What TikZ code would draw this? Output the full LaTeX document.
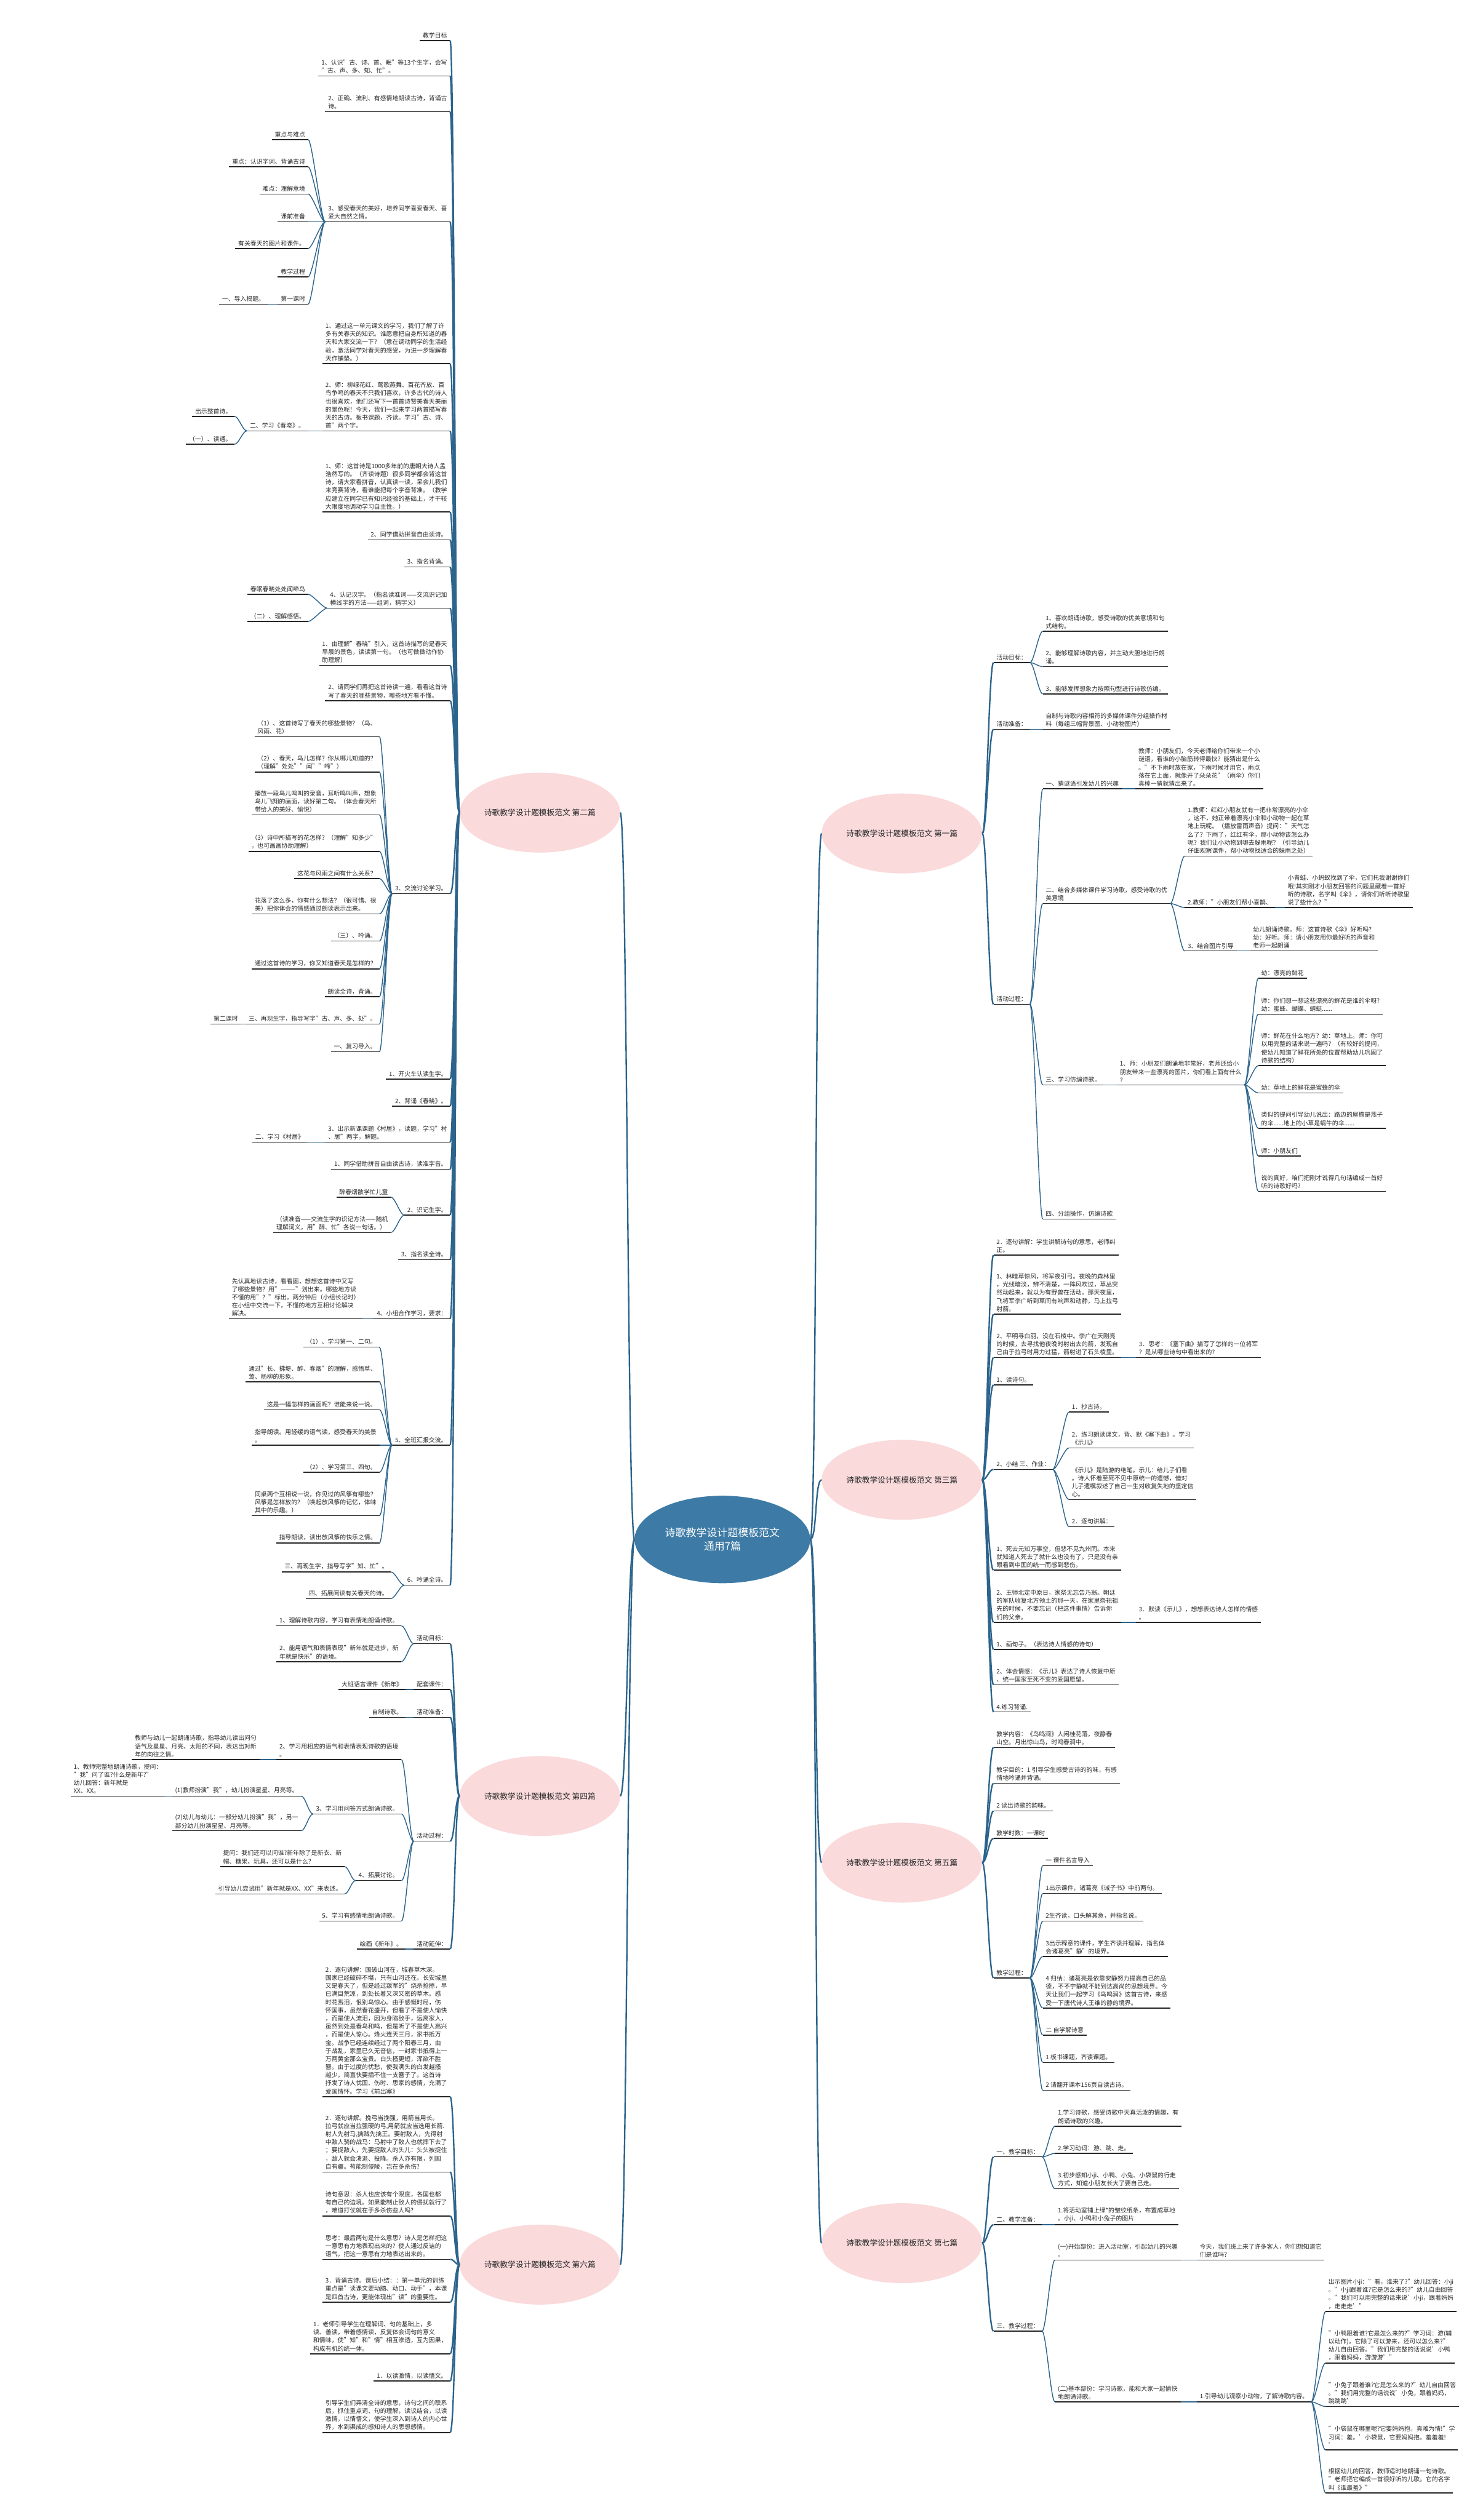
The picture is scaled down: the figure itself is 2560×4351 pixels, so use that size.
\documentclass[tikz,border=0pt]{standalone}
\usepackage{fontspec}
\setmainfont{Noto Sans CJK SC}
\usetikzlibrary{shapes.geometric}
\definecolor{lnblue}{RGB}{44,100,140}
\definecolor{pinkf}{RGB}{250,218,219}
\definecolor{ctrf}{RGB}{61,123,166}
\definecolor{txt}{RGB}{40,40,40}
\tikzset{
 lf/.style={font=\fontsize{10.5}{14}\selectfont, align=left, inner xsep=5pt, inner ysep=4pt, text=txt},
 ul/.style={draw=black!85, line width=1.5pt},
 cnx/.style={draw=lnblue, line width=1.5pt},
 trk/.style={draw=lnblue, line width=2.5pt},
 pk/.style={ellipse, fill=pinkf, minimum width=277pt, minimum height=138pt, inner sep=0pt, font=\fontsize{13.5}{16}\selectfont, text=black!85},
 ctr/.style={ellipse, fill=ctrf, minimum width=303pt, minimum height=151pt, inner sep=0pt, font=\fontsize{18}{23}\selectfont, text=white, align=center}
}
\newcommand\rleaf[4]{\node[lf,anchor=south west] (#1) at (#2,#3) {#4}; \draw[ul] (#1.south west) -- (#1.south east);}
\newcommand\lleaf[4]{\node[lf,anchor=south east] (#1) at (#2,#3) {#4}; \draw[ul] (#1.south west) -- (#1.south east);}
\newcommand\rcon[2]{\draw[cnx] (#1.south east) .. controls +(7,0) and +(-7,0) .. (#2.south west);}
\newcommand\lcon[2]{\draw[cnx] (#1.south west) .. controls +(-7,0) and +(7,0) .. (#2.south east);}
\begin{document}
\begin{tikzpicture}[x=1pt,y=-1pt]
\fill[white] (0,0) rectangle (2560,4351);
\useasboundingbox (0,0) rectangle (2560,4351);

% ---------- ellipses ----------
\node[ctr] (C) at (1247,2658) {诗歌教学设计题模板范文\\通用7篇};
\node[pk] (E1) at (1557,1439) {诗歌教学设计题模板范文 第一篇};
\node[pk] (E3) at (1557,2555) {诗歌教学设计题模板范文 第三篇};
\node[pk] (E5) at (1557,3216) {诗歌教学设计题模板范文 第五篇};
\node[pk] (E7) at (1557,3873) {诗歌教学设计题模板范文 第七篇};
\node[pk] (E2) at (932,1403) {诗歌教学设计题模板范文 第二篇};
\node[pk] (E4) at (932,3101) {诗歌教学设计题模板范文 第四篇};
\node[pk] (E6) at (932,3910) {诗歌教学设计题模板范文 第六篇};
\foreach \e in {E2,E4,E6} \draw[trk] (C.west) .. controls +(-12,0) and +(12,0) .. (\e.east);
\foreach \e in {E1,E3,E5,E7} \draw[trk] (C.east) .. controls +(12,0) and +(-12,0) .. (\e.west);

% ---------- 第一篇 ----------
\rleaf{R1a}{1715}{1144}{活动目标：}
\rleaf{R1a1}{1800}{1090}{1、喜欢朗诵诗歌，感受诗歌的优美意境和句\\式结构。}
\rleaf{R1a2}{1800}{1151}{2、能够理解诗歌内容，并主动大胆地进行朗\\诵。}
\rleaf{R1a3}{1800}{1198}{3、能够发挥想象力按照句型进行诗歌仿编。}
\rleaf{R1b}{1715}{1259}{活动准备：}
\rleaf{R1b1}{1800}{1259}{自制与诗歌内容相符的多媒体课件分组操作材\\料（每组三幅背景图、小动物图片）}
\rleaf{R1c}{1715}{1734}{活动过程：}
\rleaf{R1c1}{1800}{1362}{一、猜谜语引发幼儿的兴趣}
\rleaf{R1c1a}{1960}{1362}{教师：小朋友们，今天老师给你们带来一个小\\谜语，看谁的小脑筋转得最快？能猜出是什么\\。"不下雨时放在家，下雨时候才用它，雨点\\落在它上面，就像开了朵朵花"（雨伞）你们\\真棒一猜就猜出来了。}
\rleaf{R1c2}{1800}{1560}{二、结合多媒体课件学习诗歌，感受诗歌的优\\美意境}
\rleaf{R1c2a}{2045}{1478}{1.教师：红红小朋友就有一把非常漂亮的小伞\\，这不，她正带着漂亮小伞和小动物一起在草\\地上玩呢。（播放雷雨声音）提问："天气怎\\么了？下雨了，红红有伞，那小动物该怎么办\\呢？我们让小动物到哪去躲雨呢？（引导幼儿\\仔细观察课件，帮小动物找适合的躲雨之处）}
\rleaf{R1c2b}{2045}{1567}{2.教师："小朋友们帮小喜鹊、}
\rleaf{R1c2b1}{2218}{1567}{小青蛙、小蚂蚁找到了伞，它们托我谢谢你们\\哦!其实刚才小朋友回答的问题里藏着一首好\\听的诗歌，名字叫《伞》，请你们听听诗歌里\\说了些什么？"}
\rleaf{R1c2c}{2045}{1642}{3、结合图片引导}
\rleaf{R1c2c1}{2158}{1642}{幼儿朗诵诗歌。师：这首诗歌《伞》好听吗?\\幼：好听。师：请小朋友用你最好听的声音和\\老师一起朗诵}
\rleaf{R1c3}{1800}{1873}{三、学习仿编诗歌。}
\rleaf{R1c3a}{1928}{1873}{1、师：小朋友们朗诵地非常好，老师还给小\\朋友带来一些漂亮的图片，你们看上面有什么\\？}
\rleaf{R1c3a1}{2172}{1689}{幼：漂亮的鲜花}
\rleaf{R1c3a2}{2172}{1751}{师：你们想一想这些漂亮的鲜花是谁的伞呀?\\幼：蜜蜂、蝴蝶、蜻蜓......}
\rleaf{R1c3a3}{2172}{1840}{师：鲜花在什么地方？幼：草地上。师：你可\\以用完整的话来说一遍吗？（有较好的提问，\\使幼儿知道了鲜花所处的位置帮助幼儿巩固了\\诗歌的结构）}
\rleaf{R1c3a4}{2172}{1887}{幼：草地上的鲜花是蜜蜂的伞}
\rleaf{R1c3a5}{2172}{1948}{类似的提问引导幼儿说出：路边的屋檐是燕子\\的伞......地上的小草是蜗牛的伞......}
\rleaf{R1c3a6}{2172}{1996}{师：小朋友们}
\rleaf{R1c3a7}{2172}{2057}{说的真好，咱们把刚才说得几句话编成一首好\\听的诗歌好吗?}
\rleaf{R1c4}{1800}{2105}{四、分组操作，仿编诗歌}
\foreach \c in {R1a,R1b,R1c} \draw[trk] (E1.east) .. controls +(8,0) and +(-8,0) .. (\c.south west);
\foreach \c in {R1a1,R1a2,R1a3} {\rcon{R1a}{\c}}
\rcon{R1b}{R1b1}
\foreach \c in {R1c1,R1c2,R1c3,R1c4} {\rcon{R1c}{\c}}
\rcon{R1c1}{R1c1a}
\foreach \c in {R1c2a,R1c2b,R1c2c} {\rcon{R1c2}{\c}}
\rcon{R1c2b}{R1c2b1}
\rcon{R1c2c}{R1c2c1}
\rcon{R1c3}{R1c3a}
\foreach \c in {R1c3a1,R1c3a2,R1c3a3,R1c3a4,R1c3a5,R1c3a6,R1c3a7} {\rcon{R1c3a}{\c}}

% ---------- 第三篇 ----------
\rleaf{R3a}{1715}{2167}{2．逐句讲解：学生讲解诗句的意思，老师纠\\正。}
\rleaf{R3b}{1715}{2269}{1、林暗草惊风，将军夜引弓。夜晚的森林里\\，光线暗淡，辨不清楚，一阵风吹过，草丛突\\然动起来，就以为有野兽在活动。那天夜里，\\飞将军李广听到草间有响声和动静，马上拉弓\\射箭。}
\rleaf{R3c}{1715}{2344}{2、平明寻白羽，没在石棱中。李广在天刚亮\\的时候，去寻找他夜晚时射出去的箭，发现自\\己由于拉弓时用力过猛，箭射进了石头棱里。}
\rleaf{R3c1}{1961}{2344}{3．思考：《塞下曲》描写了怎样的一位将军\\？是从哪些诗句中看出来的?}
\rleaf{R3d}{1715}{2391}{1、读诗句。}
\rleaf{R3e}{1715}{2537}{2、小结 三、作业：}
\rleaf{R3e1}{1845}{2438}{1．抄古诗。}
\rleaf{R3e2}{1845}{2500}{2．练习朗读课文，背、默《塞下曲》。学习\\《示儿》}
\rleaf{R3e3}{1845}{2589}{《示儿》是陆游的绝笔。示儿：给儿子们看\\。诗人怀着至死不见中原统一的遗憾，借对\\儿子遗嘱叙述了自己一生对收复失地的坚定信\\心。}
\rleaf{R3e4}{1845}{2636}{2．逐句讲解：}
\rleaf{R3f}{1715}{2711}{1、死去元知万事空，但悲不见九州同。本来\\就知道人死去了就什么也没有了。只是没有亲\\眼看到中国的统一而感到悲伤。}
\rleaf{R3g}{1715}{2801}{2、王师北定中原日，家祭无忘告乃翁。朝廷\\的军队收复北方领土的那一天，在家里祭祀祖\\先的时候，不要忘记（把这件事情）告诉你\\们的父亲。}
\rleaf{R3g1}{1961}{2801}{3．默读《示儿》，想想表达诗人怎样的情感\\。}
\rleaf{R3h}{1715}{2848}{1、画句子。（表达诗人情感的诗句）}
\rleaf{R3i}{1715}{2909}{2、体会情感：《示儿》表达了诗人恢复中原\\、统一国家至死不变的爱国愿望。}
\rleaf{R3j}{1715}{2956}{4.练习背诵.}
\foreach \c in {R3a,R3b,R3c,R3d,R3e,R3f,R3g,R3h,R3i,R3j} \draw[trk] (E3.east) .. controls +(8,0) and +(-8,0) .. (\c.south west);
\rcon{R3c}{R3c1}
\foreach \c in {R3e1,R3e2,R3e3,R3e4} {\rcon{R3e}{\c}}
\rcon{R3g}{R3g1}

% ---------- 第五篇 ----------
\rleaf{R5a}{1715}{3017}{教学内容：《鸟鸣涧》人闲桂花落，夜静春\\山空。月出惊山鸟，时鸣春涧中。}
\rleaf{R5b}{1715}{3079}{教学目的：1 引导学生感受古诗的韵味，有感\\情地吟诵并背诵。}
\rleaf{R5c}{1715}{3127}{2 读出诗歌的韵味。}
\rleaf{R5d}{1715}{3174}{教学时数：一课时}
\rleaf{R5e}{1715}{3415}{教学过程：}
\rleaf{R5e1}{1800}{3221}{一 课件名言导入}
\rleaf{R5e2}{1800}{3269}{1出示课件，诸葛亮《诫子书》中前两句。}
\rleaf{R5e3}{1800}{3317}{2生齐读，口头解其意，并指名说。}
\rleaf{R5e4}{1800}{3378}{3出示释意的课件，学生齐读并理解，指名体\\会诸葛亮"静"的境界。}
\rleaf{R5e5}{1800}{3467}{4 归纳：诸葛亮是依靠安静努力提高自己的品\\德，不不宁静就不能到达高尚的思想境界。今\\天让我们一起学习《鸟鸣涧》这首古诗，来感\\受一下唐代诗人王维的静的境界。}
\rleaf{R5e6}{1800}{3514}{二 自学解诗意}
\rleaf{R5e7}{1800}{3561}{1 板书课题，齐读课题。}
\rleaf{R5e8}{1800}{3609}{2 请翻开课本156页自读古诗。}
\foreach \c in {R5a,R5b,R5c,R5d,R5e} \draw[trk] (E5.east) .. controls +(8,0) and +(-8,0) .. (\c.south west);
\foreach \c in {R5e1,R5e2,R5e3,R5e4,R5e5,R5e6,R5e7,R5e8} {\rcon{R5e}{\c}}

% ---------- 第七篇 ----------
\rleaf{R7a}{1715}{3724}{一、教学目标：}
\rleaf{R7a1}{1821}{3671}{1.学习诗歌，感受诗歌中天真活泼的情趣，有\\朗诵诗歌的兴趣。}
\rleaf{R7a2}{1821}{3718}{2.学习动词：游、跳、走。}
\rleaf{R7a3}{1821}{3779}{3.初步感知小ji、小鸭、小兔、小袋鼠的行走\\方式，知道小朋友长大了要自己走。}
\rleaf{R7b}{1715}{3841}{二、教学准备：}
\rleaf{R7b1}{1821}{3841}{1.将活动室铺上绿*的皱纹纸条，布置成草地\\。小ji、小鸭和小兔子的图片}
\rleaf{R7c}{1715}{4025}{三、教学过程：}
\rleaf{R7c1}{1821}{3902}{(一)开始部份：进入活动室，引起幼儿的兴趣\\。}
\rleaf{R7c1a}{2066}{3902}{今天，我们班上来了许多客人，你们想知道它\\们是谁吗?}
\rleaf{R7c2}{1821}{4147}{(二)基本部份：学习诗歌，能和大家一起愉快\\地朗诵诗歌。}
\rleaf{R7c2a}{2066}{4147}{1.引导幼儿观察小动物，了解诗歌内容。}
\rleaf{R7c2a1}{2288}{3991}{出示图片小ji："看，谁来了?"幼儿回答：小ji\\。"小ji跟着谁?它是怎么来的?"幼儿自由回答\\。"我们可以用完整的话来说'小ji，跟着妈妈\\，走走走'"}
\rleaf{R7c2a2}{2288}{4080}{"小鸭跟着谁?它是怎么来的?"学习词：游(辅\\以动作)。它除了可以游来，还可以怎么来?"\\幼儿自由回答。"我们用完整的话说说'小鸭\\，跟着妈妈，游游游'"}
\rleaf{R7c2a3}{2288}{4155}{"小兔子跟着谁?它是怎么来的?"幼儿自由回答\\。"我们用完整的话说说'小兔，跟着妈妈，\\跳跳跳'}
\rleaf{R7c2a4}{2288}{4230}{"小袋鼠在哪里呢?它要妈妈抱，真难为情!"学\\习词：羞。'小袋鼠，它要妈妈抱。羞羞羞!\\'}
\rleaf{R7c2a5}{2288}{4304}{根据幼儿的回答，教师适时地朗诵一句诗歌。\\"老师把它编成一首很好听的儿歌。它的名字\\叫《谁最羞》"}
\foreach \c in {R7a,R7b,R7c} \draw[trk] (E7.east) .. controls +(8,0) and +(-8,0) .. (\c.south west);
\foreach \c in {R7a1,R7a2,R7a3} {\rcon{R7a}{\c}}
\rcon{R7b}{R7b1}
\foreach \c in {R7c1,R7c2} {\rcon{R7c}{\c}}
\rcon{R7c1}{R7c1a}
\rcon{R7c2}{R7c2a}
\foreach \c in {R7c2a1,R7c2a2,R7c2a3,R7c2a4,R7c2a5} {\rcon{R7c2a}{\c}}

% ---------- 第二篇 ----------
\lleaf{L2a}{777}{70}{教学目标}
\lleaf{L2b}{777}{131}{1、认识"古、诗、首、眠"等13个生字，会写\\"古、声、多、知、忙"。}
\lleaf{L2c}{777}{193}{2、正确、流利、有感情地朗读古诗，背诵古\\诗。}
\lleaf{L2d}{777}{383}{3、感受春天的美好，培养同学喜爱春天、喜\\爱大自然之情。}
\lleaf{L2d1}{532}{241}{重点与难点}
\lleaf{L2d2}{532}{288}{重点：认识字词、背诵古诗}
\lleaf{L2d3}{532}{335}{难点：理解意境}
\lleaf{L2d4}{532}{383}{课前准备}
\lleaf{L2d5}{532}{429}{有关春天的图片和课件。}
\lleaf{L2d6}{532}{478}{教学过程}
\lleaf{L2d7}{532}{525}{第一课时}
\lleaf{L2d7a}{462}{525}{一、导入揭题。}
\lleaf{L2e}{777}{628}{1、通过这一单元课文的学习，我们了解了许\\多有关春天的知识。谁愿意把自身所知道的春\\天和大家交流一下？（意在调动同学的生活经\\验，激活同学对春天的感受，为进一步理解春\\天作铺垫。）}
\lleaf{L2f}{777}{744}{2、师：柳绿花红、莺歌燕舞、百花齐放、百\\鸟争鸣的春天不只我们喜欢，许多古代的诗人\\也很喜欢，他们还写下一首首诗赞美春天美丽\\的景色呢！今天，我们一起来学习两首描写春\\天的古诗。板书课题，齐读。学习"古、诗、\\首"两个字。}
\lleaf{L2f1}{531}{744}{二、学习《春晓》。}
\lleaf{L2f1a}{405}{719}{出示整首诗。}
\lleaf{L2f1b}{405}{767}{（一）、读通。}
\lleaf{L2g}{777}{884}{1、师：这首诗是1000多年前的唐朝大诗人孟\\浩然写的。（齐读诗题）很多同学都会背这首\\诗，请大家看拼音，认真读一读，呆会儿我们\\来竞赛背诗，看谁能把每个字音背准。（教学\\应建立在同学已有知识经验的基础上，才干较\\大限度地调动学习自主性。）}
\lleaf{L2h}{777}{932}{2、同学借助拼音自由读诗。}
\lleaf{L2i}{777}{979}{3、指名背诵。}
\lleaf{L2j}{777}{1050}{4、认记汉字。（指名读准词——交流识记加\\横线字的方法——组词，猜字义）}
\lleaf{L2j1}{532}{1026}{春眠春晓处处闻啼鸟}
\lleaf{L2j2}{532}{1073}{（二）、理解感悟。}
\lleaf{L2k}{777}{1149}{1、由理解"春晓"引入，这首诗描写的是春天\\早晨的景色，读读第一句。（也可做做动作协\\助理解）}
\lleaf{L2l}{777}{1210}{2、请同学们再把这首诗读一遍，看看这首诗\\写了春天的哪些景物，哪些地方看不懂。}
\lleaf{L2m}{777}{1543}{3、交流讨论学习。}
\lleaf{L2m1}{655}{1272}{（1）、这首诗写了春天的哪些景物？（鸟、\\风雨、花）}
\lleaf{L2m2}{655}{1333}{（2）、春天，鸟儿怎样？你从哪儿知道的？\\（理解"处处""闻""啼"）}
\lleaf{L2m3}{655}{1407}{播放一段鸟儿鸣叫的录音，耳听鸣叫声，想象\\鸟儿飞翔的画面，读好第二句。（体会春天所\\带给人的美好、愉悦）}
\lleaf{L2m4}{655}{1470}{（3）诗中所描写的花怎样？（理解"知多少"\\，也可画画协助理解）}
\lleaf{L2m5}{655}{1517}{这花与风雨之间有什么关系？}
\lleaf{L2m6}{655}{1578}{花落了这么多，你有什么想法？（很可惜、很\\美）把你体会的情感通过朗读表示出来。}
\lleaf{L2m7}{655}{1625}{（三）、吟诵。}
\lleaf{L2m8}{655}{1673}{通过这首诗的学习，你又知道春天是怎样的？}
\lleaf{L2m9}{655}{1721}{朗读全诗，背诵。}
\lleaf{L2m10}{655}{1768}{三、再现生字，指导写字"古、声、多、处"。}
\lleaf{L2m10a}{416}{1768}{第二课时}
\lleaf{L2m11}{655}{1816}{一、复习导入。}
\lleaf{L2n}{777}{1863}{1、开火车认读生字。}
\lleaf{L2o}{777}{1910}{2、背诵《春晓》。}
\lleaf{L2p}{777}{1972}{3、出示新课课题《村居》，读题，学习"村\\、居"两字，解题。}
\lleaf{L2p1}{530}{1972}{二、学习《村居》}
\lleaf{L2q}{777}{2019}{1、同学借助拼音自由读古诗，读准字音。}
\lleaf{L2r}{777}{2098}{2、识记生字。}
\lleaf{L2r1}{675}{2067}{醉春烟散学忙儿童}
\lleaf{L2r2}{675}{2128}{（读准音——交流生字的识记方法——随机\\理解词义，用"醉、忙"各说一句话。）}
\lleaf{L2s}{777}{2175}{3、指名读全诗。}
\lleaf{L2t}{777}{2277}{4、小组合作学习，要求：}
\lleaf{L2t1}{626}{2277}{先认真地读古诗，看看图，想想这首诗中又写\\了哪些景物？用"———"划出来。哪些地方读\\不懂的用"？"标出。两分钟后（小组长记时）\\在小组中交流一下，不懂的地方互相讨论解决\\解决。}
\lleaf{L2u}{777}{2495}{5、全班汇报交流。}
\lleaf{L2u1}{655}{2326}{（1）、学习第一、二句。}
\lleaf{L2u2}{655}{2386}{通过"长、拂堤、醉、春烟"的理解，感悟草、\\莺、杨柳的形象。}
\lleaf{L2u3}{655}{2434}{这是一幅怎样的画面呢？谁能来说一说。}
\lleaf{L2u4}{655}{2495}{指导朗读。用轻缓的语气读，感受春天的美景\\。}
\lleaf{L2u5}{655}{2542}{（2）、学习第三、四句。}
\lleaf{L2u6}{655}{2617}{同桌两个互相说一说，你见过的风筝有哪些？\\风筝是怎样放的？（唤起放风筝的记忆，体味\\其中的乐趣。）}
\lleaf{L2u7}{655}{2664}{指导朗读，读出放风筝的快乐之情。}
\lleaf{L2v}{777}{2737}{6、吟诵全诗。}
\lleaf{L2v1}{675}{2714}{三、再现生字，指导写字"知、忙"。}
\lleaf{L2v2}{675}{2760}{四、拓展阅读有关春天的诗。}
\foreach \c in {L2a,L2b,L2c,L2d,L2e,L2f,L2g,L2h,L2i,L2j,L2k,L2l,L2m,L2n,L2o,L2p,L2q,L2r,L2s,L2t,L2u,L2v} \draw[trk] (E2.west) .. controls +(-8,0) and +(8,0) .. (\c.south east);
\foreach \c in {L2d1,L2d2,L2d3,L2d4,L2d5,L2d6,L2d7} {\lcon{L2d}{\c}}
\lcon{L2d7}{L2d7a}
\lcon{L2f}{L2f1}
\foreach \c in {L2f1a,L2f1b} {\lcon{L2f1}{\c}}
\foreach \c in {L2j1,L2j2} {\lcon{L2j}{\c}}
\foreach \c in {L2m1,L2m2,L2m3,L2m4,L2m5,L2m6,L2m7,L2m8,L2m9,L2m10,L2m11} {\lcon{L2m}{\c}}
\lcon{L2m10}{L2m10a}
\lcon{L2p}{L2p1}
\foreach \c in {L2r1,L2r2} {\lcon{L2r}{\c}}
\lcon{L2t}{L2t1}
\foreach \c in {L2u1,L2u2,L2u3,L2u4,L2u5,L2u6,L2u7} {\lcon{L2u}{\c}}
\foreach \c in {L2v1,L2v2} {\lcon{L2v}{\c}}

% ---------- 第四篇 ----------
\lleaf{L4a}{777}{2838}{活动目标：}
\lleaf{L4a1}{693}{2807}{1、理解诗歌内容，学习有表情地朗诵诗歌。}
\lleaf{L4a2}{693}{2869}{2、能用语气和表情表现"新年就是进步，新\\年就是快乐"的语境。}
\lleaf{L4b}{777}{2917}{配套课件：}
\lleaf{L4b1}{700}{2917}{大班语言课件《新年》}
\lleaf{L4c}{777}{2965}{活动准备：}
\lleaf{L4c1}{700}{2965}{自制诗歌。}
\lleaf{L4d}{777}{3179}{活动过程：}
\lleaf{L4d2}{693}{3038}{2、学习用相应的语气和表情表现诗歌的语境\\。}
\lleaf{L4d2a}{448}{3038}{教师与幼儿一起朗诵诗歌，指导幼儿读出问句\\语气及星星、月亮、太阳的不同，表达出对新\\年的向往之情。}
\lleaf{L4d3}{693}{3132}{3、学习用问答方式朗诵诗歌。}
\lleaf{L4d3a}{520}{3101}{(1)教师扮演"我"，幼儿扮演星星、月亮等。}
\lleaf{L4d3a1}{285}{3101}{1、教师完整地朗诵诗歌，提问：\\"我"问了谁?什么是新年?"\\幼儿回答：新年就是\\XX、XX。}
\lleaf{L4d3b}{520}{3161}{(2)幼儿与幼儿：一部分幼儿扮演"我"，另一\\部分幼儿扮演星星、月亮等。}
\lleaf{L4d4}{693}{3247}{4、拓展讨论。}
\lleaf{L4d4a}{595}{3223}{提问：我们还可以问谁?新年除了是新衣、新\\帽、糖果、玩具，还可以是什么?}
\lleaf{L4d4b}{595}{3270}{引导幼儿尝试用"新年就是XX、XX"来表述。}
\lleaf{L4d5}{693}{3317}{5、学习有感情地朗诵诗歌。}
\lleaf{L4e}{777}{3365}{活动延伸：}
\lleaf{L4e1}{700}{3365}{绘画《新年》。}
\foreach \c in {L4a,L4b,L4c,L4d,L4e} \draw[trk] (E4.west) .. controls +(-8,0) and +(8,0) .. (\c.south east);
\foreach \c in {L4a1,L4a2} {\lcon{L4a}{\c}}
\lcon{L4b}{L4b1}
\lcon{L4c}{L4c1}
\foreach \c in {L4d2,L4d3,L4d4,L4d5} {\lcon{L4d}{\c}}
\lcon{L4d2}{L4d2a}
\foreach \c in {L4d3a,L4d3b} {\lcon{L4d3}{\c}}
\lcon{L4d3a}{L4d3a1}
\foreach \c in {L4d4a,L4d4b} {\lcon{L4d4}{\c}}
\lcon{L4e}{L4e1}

% ---------- 第六篇 ----------
\lleaf{L6a}{777}{3620}{2．逐句讲解：国破山河在，城春草木深。\\国家已经破碎不堪，只有山河还在。长安城里\\又是春天了，但是经过叛军的"烧杀抢掠，早\\已满目荒凉，到处长着又深又密的草木。感\\时花溅泪，恨别鸟惊心。由于感慨时局，伤\\怀国事，虽然春花盛开，但看了不是使人愉快\\，而是使人流泪，因为身陷敌手，远离家人，\\虽然到处是春鸟和鸣，但是听了不是使人高兴\\，而是使人惊心。烽火连天三月，家书抵万\\金。战争已经连续经过了两个阳春三月，由\\于战乱，家里已久无音信，一封家书抵得上一\\万两黄金那么宝贵。白头搔更短，浑欲不胜\\簪。由于过度的忧愁，使我满头的白发越搔\\越少，简直快要插不住一支簪子了。这首诗\\抒发了诗人忧国、伤时、思家的感情，充满了\\爱国情怀。学习《前出塞》}
\lleaf{L6b}{777}{3750}{2．逐句讲解。挽弓当挽强，用箭当用长。\\拉弓就应当拉强硬的弓,用箭就应当选用长箭.\\射人先射马,擒贼先擒王。要射敌人，先得射\\中敌人骑的战马：马射中了敌人也就摔下去了\\；要捉敌人，先要捉敌人的头儿：头头被捉住\\，敌人就会溃退、投降。杀人亦有限，列国\\自有疆。苟能制侵陵，岂在多杀伤?}
\lleaf{L6c}{777}{3826}{诗句意思：杀人也应该有个限度，各国也都\\有自己的边境。如果能制止敌人的侵扰就行了\\，难道打仗就在于多杀伤些人吗?}
\lleaf{L6d}{777}{3901}{思考：最后两句是什么意思？诗人是怎样把这\\一意思有力地表现出来的？使人通过反诘的\\语气，把这一意思有力地表达出来的。}
\lleaf{L6e}{777}{3975}{3．背诵古诗。课后小结：：第一单元的训练\\重点是"读课文要动脑、动口、动手"，本课\\是四首古诗，更能体现出"读"的重要性。}
\lleaf{L6f}{777}{4064}{1．老师引导学生在理解词、句的基础上，多\\读、善读，带着感情读，反复体会词句的意义\\和情味，使"知"和"情"相互渗透，互为因果，\\构成有机的统一体。}
\lleaf{L6g}{777}{4111}{1．以读激情，以读悟文。}
\lleaf{L6h}{777}{4200}{引导学生们弄清全诗的意思，诗句之间的联系\\后，抓住重点词、句的理解，读议结合，以读\\激情，以情悟文，使学生深入到诗人的内心世\\界，水到渠成的感知诗人的思想感情。}
\foreach \c in {L6a,L6b,L6c,L6d,L6e,L6f,L6g,L6h} \draw[trk] (E6.west) .. controls +(-8,0) and +(8,0) .. (\c.south east);
\end{tikzpicture}
\end{document}
